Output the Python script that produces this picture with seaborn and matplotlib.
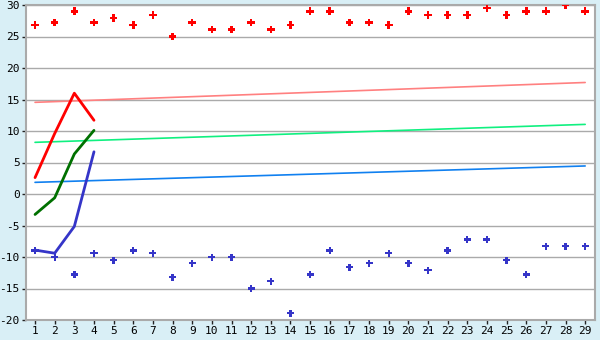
import matplotlib
matplotlib.use("Agg")
import matplotlib.pyplot as plt
import seaborn as sns
import pandas as pd

days = list(range(1, 30))
high_points = [26.8, 27.25, 29.0, 27.25, 27.9, 26.8, 28.4, 25.0, 27.25, 26.1,
               26.1, 27.25, 26.1, 26.8, 29.0, 29.0, 27.25, 27.25, 26.8, 29.0,
               28.4, 28.4, 28.4, 29.5, 28.4, 29.0, 29.0, 30.0, 29.0]
low_points = [-8.95, -10.05, -12.75, -9.4, -10.5, -8.95, -9.4, -13.2, -11.0, -10.05,
              -10.05, -15.0, -13.85, -18.9, -12.75, -8.95, -11.6, -11.0, -9.4, -11.0,
              -12.1, -8.95, -7.2, -7.2, -10.5, -12.75, -8.3, -8.3, -8.3]

line_days = [1, 2, 3, 4]
red_line = [2.6, 9.6, 16.0, 11.7]
green_line = [-3.25, -0.6, 6.35, 10.1]
blue_line = [-8.9, -9.4, -5.15, 6.7]

trend_days = [1, 29]
trend_high = [14.55, 17.7]
trend_mid = [8.2, 11.05]
trend_low = [1.85, 4.45]

yticks = list(range(-20, 31, 5))

sns.set_theme(style="white")
plt.rcParams['font.family'] = ['DejaVu Sans Mono', 'DejaVu Sans']
plt.rcParams['axes.unicode_minus'] = False

fig = plt.figure(figsize=(6, 3.4), dpi=100, facecolor="#d9eff6")
ax = fig.add_axes([26/600, 20/340, 569/600, 315/340])
ax.set_facecolor("white")

for y in yticks:
    ax.axhline(y, color="#aaaaaa", lw=1.0, zorder=0)

sns.lineplot(x=trend_days, y=trend_high, color="#ff8080", lw=1.2, ax=ax)
sns.lineplot(x=trend_days, y=trend_mid, color="#10f080", lw=1.2, ax=ax)
sns.lineplot(x=trend_days, y=trend_low, color="#1080f0", lw=1.2, ax=ax)

sns.lineplot(x=line_days, y=red_line, color="#ff0000", lw=2, ax=ax)
sns.lineplot(x=line_days, y=green_line, color="#007000", lw=2, ax=ax)
sns.lineplot(x=line_days, y=blue_line, color="#3535c8", lw=2, ax=ax)

sns.scatterplot(x=days, y=high_points, color="#ff0000", marker="P", s=30,
                edgecolor="none", ax=ax, zorder=5)
sns.scatterplot(x=days, y=low_points, color="#3535c8", marker="P", s=26,
                edgecolor="none", ax=ax, zorder=5)

ax.set_xlim(0.54, 29.5)
ax.set_ylim(-20, 30)
ax.set_xticks(days)
ax.set_xticklabels([str(d) for d in days])
ax.set_yticks(yticks)
ax.set_yticklabels([str(v) for v in yticks])
ax.tick_params(axis="both", which="both", length=3, width=1, color="#222222",
               labelsize=8, labelcolor="black", pad=1.5, direction="out",
               bottom=True, left=True)
for s in ax.spines.values():
    s.set_color("#aaaaaa")
    s.set_linewidth(1.5)
ax.set_xlabel("")
ax.set_ylabel("")

fig.savefig("out.png", dpi=100, facecolor=fig.get_facecolor())
